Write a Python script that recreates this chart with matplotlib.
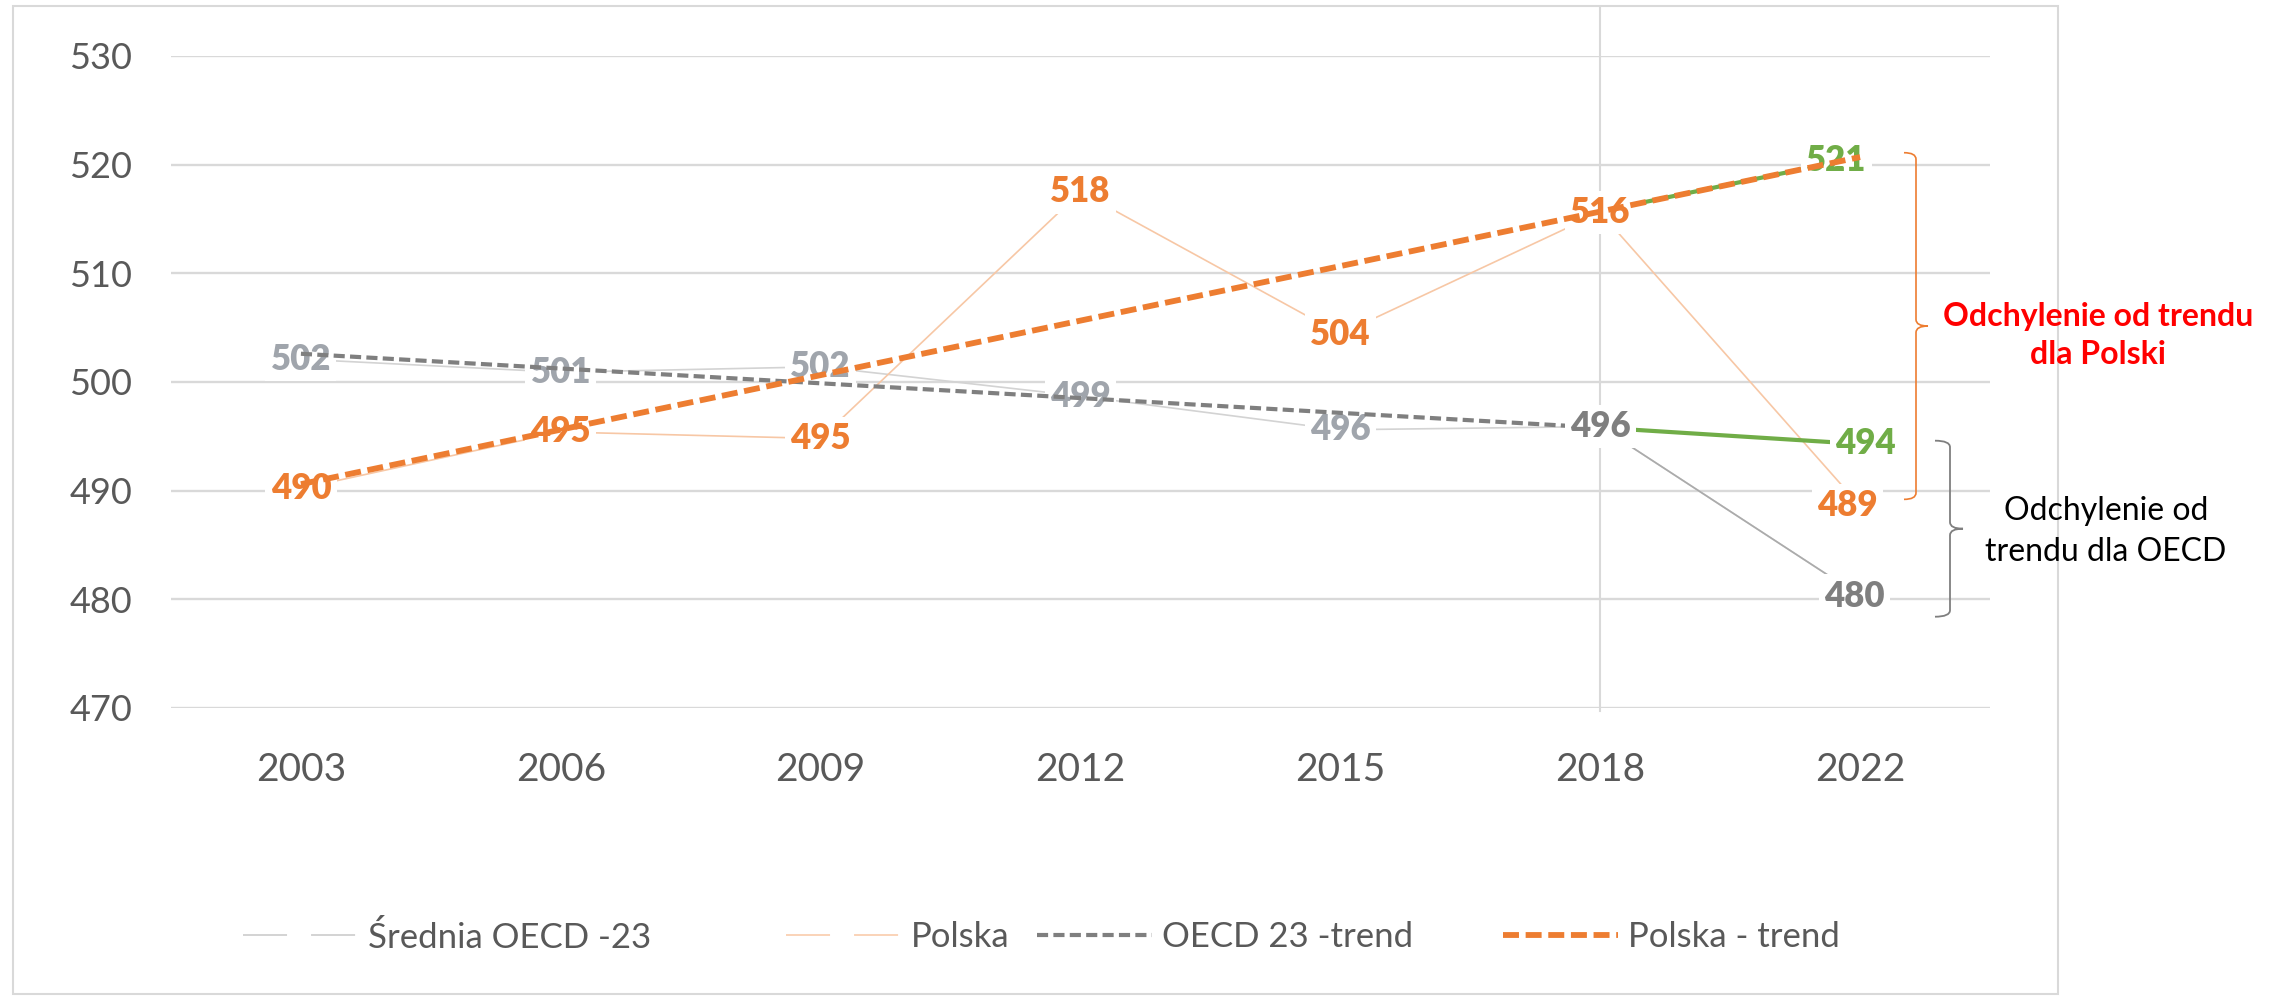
import matplotlib
matplotlib.use('Agg')
import matplotlib.pyplot as plt
from matplotlib.lines import Line2D
from matplotlib.path import Path
from matplotlib.patches import PathPatch, Rectangle
import matplotlib.transforms as mtransforms

plt.rcParams['lines.scale_dashes'] = False
plt.rcParams['font.family'] = ['Lato', 'DejaVu Sans']

# ---------------- data ----------------
years = ['2003', '2006', '2009', '2012', '2015', '2018', '2022']
oecd_avg = [502.1, 500.9, 501.4, 498.7, 495.6, 495.9, 480.3]
oecd_avg_labels = ['502', '501', '502', '499', '496', '496', '480']
polska = [490.2, 495.4, 494.8, 517.5, 504.4, 515.6, 488.6]
polska_labels = ['490', '495', '495', '518', '504', '516', '489']
oecd_trend_years = ['2003', '2018']
oecd_trend = [502.6, 495.8]
polska_trend_years = ['2003', '2022']
polska_trend = [490.6, 520.7]
ext_years = ['2018', '2022']
polska_ext = [515.7, 520.7]
oecd_ext = [495.8, 494.3]
polska_ext_label = '521'
oecd_ext_label = '494'
y_ticks = [470, 480, 490, 500, 510, 520, 530]
legend_labels = ['Średnia OECD -23', 'Polska', 'OECD 23 -trend', 'Polska - trend']
brace_polska = (521.1, 489.2)
brace_oecd = (494.6, 478.4)

# ---------------- colours ----------------
C_AVG = '#D3D3D3'
C_AVG_DARK = '#ABABAB'
C_AVG_LBL = '#A0A5AC'
C_AVG_LBL_DARK = '#7F7F7F'
C_PL = '#F7C7A5'
C_PL_LBL = '#ED7D31'
C_TREND_O = '#7F7F7F'
C_TREND_P = '#ED7D31'
C_GREEN = '#70AD47'
C_GRID = '#D9D9D9'
C_TXT = '#595959'

W, H, DPI = 2281, 998, 100
fig = plt.figure(figsize=(W / DPI, H / DPI), dpi=DPI)
ax = fig.add_axes([171 / W, 1 - 708 / H, (1990 - 171) / W, (708 - 56) / H])

# light series lines
ax.plot(years, oecd_avg, color=C_AVG, lw=1.2, zorder=2)
ax.plot(years[5:], oecd_avg[5:], color=C_AVG_DARK, lw=1.2, zorder=2.1)
ax.plot(years, polska, color=C_PL, lw=1.2, zorder=2)
# green extensions
ax.plot(ext_years, polska_ext, color=C_GREEN, lw=3.0, zorder=2.5, solid_capstyle='butt')
ax.plot(ext_years, oecd_ext, color=C_GREEN, lw=3.0, zorder=2.5, solid_capstyle='butt')
# trends
ax.plot(oecd_trend_years, oecd_trend, color=C_TREND_O, lw=3.0,
        dashes=(8, 3.8), dash_capstyle='butt', zorder=4)
ax.plot(polska_trend_years, polska_trend, color=C_TREND_P, lw=4.2,
        dashes=(11.5, 4.8), dash_capstyle='butt', zorder=4.2)

ax.set_xlim(-0.5, len(years) - 0.5)
ax.set_ylim(y_ticks[0], y_ticks[-1])
ax.set_yticks(y_ticks)
ax.set_yticklabels([str(t) for t in y_ticks])
ax.grid(axis='y', color=C_GRID, lw=1.7, zorder=0)
ax.set_axisbelow(True)
for s in ax.spines.values():
    s.set_visible(False)
ax.tick_params(axis='both', length=0, colors=C_TXT)
ax.tick_params(axis='y', labelsize=26, pad=28)
ax.tick_params(axis='x', labelsize=28, pad=32)

# vertical marker line at 2018
blend = mtransforms.blended_transform_factory(ax.transData, fig.transFigure)
ax.add_line(Line2D([years.index('2018')] * 2, [1 - 711 / H, 1 - 7 / H],
                   transform=blend, color=C_GRID, lw=1.5, clip_on=False, zorder=1))

# data labels
def lbl(i, v, s, color, z, dx=0):
    ax.annotate(s, (i, v), xytext=(dx, 0), textcoords='offset points',
                ha='center', va='center', fontsize=25, fontweight='heavy',
                color=color, zorder=z,
                bbox=dict(boxstyle='square,pad=0.15', fc='white', ec='none'))

for i, (v, s) in enumerate(zip(oecd_avg, oecd_avg_labels)):
    if i >= 5:
        lbl(i, v, s, C_AVG_LBL_DARK, 5, dx=(-4 if i == 6 else 0))
    else:
        lbl(i, v, s, C_AVG_LBL, 3)
for i, (v, s) in enumerate(zip(polska, polska_labels)):
    lbl(i, v, s, C_PL_LBL, 3, dx=(-9 if i == 6 else 0))
lbl(years.index(ext_years[1]), polska_ext[1] - 0.3, polska_ext_label, C_GREEN, 3, dx=-17)
lbl(years.index(ext_years[1]), oecd_ext[1], oecd_ext_label, C_GREEN, 3, dx=4)

# braces
bt = mtransforms.blended_transform_factory(fig.transFigure, ax.transData)
def brace(xpx, top, bot, curl, tip, color, lw):
    x0 = xpx / W
    c = curl / W
    t = tip / W
    r = 0.6
    mid = (top + bot) / 2
    verts = [(x0 - c, top), (x0, top), (x0, top - r),
             (x0, mid + r),
             (x0, mid), (x0 + t, mid),
             (x0, mid), (x0, mid - r),
             (x0, bot + r),
             (x0, bot), (x0 - c, bot)]
    codes = [Path.MOVETO, Path.CURVE3, Path.CURVE3,
             Path.LINETO,
             Path.CURVE3, Path.CURVE3,
             Path.CURVE3, Path.CURVE3,
             Path.LINETO,
             Path.CURVE3, Path.CURVE3]
    ax.add_patch(PathPatch(Path(verts, codes), transform=bt, fill=False,
                           ec=color, lw=lw, clip_on=False, zorder=6))

brace(1916, brace_polska[0], brace_polska[1], 12, 12, C_TREND_P, 1.2)
brace(1950, brace_oecd[0], brace_oecd[1], 15, 13, '#7F7F7F', 1.3)

fig.text(2098 / W, 1 - 335.5 / H, 'Odchylenie od trendu\ndla Polski',
         ha='center', va='center', ma='center', fontsize=23, fontweight='bold',
         color='#FF0000', linespacing=1.4)
fig.text(2106 / W, 1 - 531.5 / H, 'Odchylenie od\ntrendu dla OECD',
         ha='center', va='center', ma='center', fontsize=23, color='black',
         linespacing=1.45)

# frame
fig.patches.append(Rectangle((13 / W, 1 - 994 / H), (2058 - 13) / W, (994 - 6) / H,
                             transform=fig.transFigure, fill=False,
                             ec=C_GRID, lw=1.5))

# legend (one entry per legend to match spacing)
handles = [
    Line2D([], [], color=C_AVG, lw=1.4, dashes=(31.7, 17.3)),
    Line2D([], [], color='#FAD3B8', lw=1.4, dashes=(31.7, 17.3)),
    Line2D([], [], color=C_TREND_O, lw=3.0, dashes=(8, 3.8), dash_capstyle='butt'),
    Line2D([], [], color=C_TREND_P, lw=4.2, dashes=(11.5, 4.8), dash_capstyle='butt'),
]
leg_x = [243, 786, 1037, 1503]
for h, lab, xp in zip(handles, legend_labels, leg_x):
    fig.legend(handles=[h], labels=[lab], loc='center left',
               bbox_to_anchor=(xp / W, 1 - 937 / H), frameon=False,
               fontsize=25, handlelength=3.3, handletextpad=0.3,
               borderpad=0, borderaxespad=0, labelcolor=C_TXT)

fig.savefig('out.png', dpi=DPI, facecolor='white')
